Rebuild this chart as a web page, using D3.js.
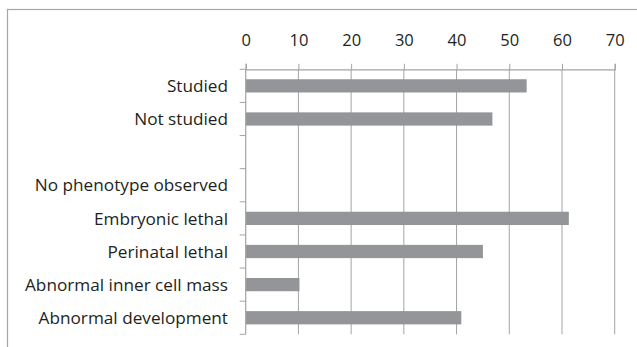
<!DOCTYPE html>
<html><head><meta charset="utf-8">
<script src="https://cdn.jsdelivr.net/npm/d3@7"></script>
<style>body{margin:0;background:#fff}svg{display:block}</style>
</head><body>
<svg id="c" width="637" height="347"></svg>
<script>
const categories = ["Studied","Not studied","","No phenotype observed","Embryonic lethal","Perinatal lethal","Abnormal inner cell mass","Abnormal development"];
const values = [53.3, 46.8, null, 0, 61.3, 45.0, 10.2, 40.9];
const xTicks = [0,10,20,30,40,50,60,70];

const svg = d3.select("#c");
const pLeft = 245.7, pRight = 614.7, pTop = 69.3, pBottom = 334.3;
const x = d3.scaleLinear().domain([0,70]).range([pLeft,pRight]);
const y = d3.scaleBand().domain(categories.map((c,i)=>i)).range([pTop,pBottom]).paddingInner(0.6).paddingOuter(0.3);
const yb = d3.scaleBand().domain(categories.map((c,i)=>i)).range([pTop,pBottom]);
const gridColor = "#a3a3a5";
const textColor = "#231f20";
const font = "'Open Sans', sans-serif";

// outer border
svg.append("rect").attr("x",7.5).attr("y",9.5).attr("width",700).attr("height",400)
  .attr("fill","none").attr("stroke","#a7a7a9").attr("stroke-width",1.2);

// gridlines
svg.append("g").selectAll("line").data(xTicks.slice(1)).join("line")
  .attr("x1",d=>x(d)).attr("x2",d=>x(d)).attr("y1",pTop).attr("y2",pBottom)
  .attr("stroke",gridColor).attr("stroke-width",1);

// top axis
const xa = svg.append("g").attr("transform",`translate(0,${pTop})`)
  .call(d3.axisTop(x).tickValues(xTicks).tickSize(5.5).tickPadding(18));
xa.select(".domain").attr("stroke",gridColor).attr("stroke-width",1.2);
xa.selectAll(".tick line").attr("stroke",gridColor);
xa.selectAll(".tick text").attr("fill",textColor).attr("font-family",font).attr("font-size",16.5);

// bars
svg.append("g").selectAll("rect").data(values.map((v,i)=>({v,i})).filter(d=>d.v!=null && d.v>0)).join("rect")
  .attr("x",x(0)).attr("y",d=>y(d.i)).attr("width",d=>x(d.v)-x(0)).attr("height",y.bandwidth())
  .attr("fill","#939598");

// left axis
svg.append("line").attr("x1",x(0)).attr("x2",x(0)).attr("y1",pTop).attr("y2",pBottom).attr("stroke",gridColor).attr("stroke-width",1.2);
const tickYs = categories.map((c,i)=>yb(i)).concat([pBottom]);
svg.append("g").selectAll("line").data(tickYs).join("line")
  .attr("x1",x(0)-6).attr("x2",x(0)).attr("y1",d=>d).attr("y2",d=>d).attr("stroke",gridColor);

svg.append("g").selectAll("text").data(categories).join("text")
  .attr("x",228).attr("y",(d,i)=>yb(i)+yb.bandwidth()/2).attr("dy","0.36em")
  .attr("text-anchor","end").attr("fill",textColor).attr("font-family",font).attr("font-size",17.2)
  .text(d=>d);
</script>
</body></html>
